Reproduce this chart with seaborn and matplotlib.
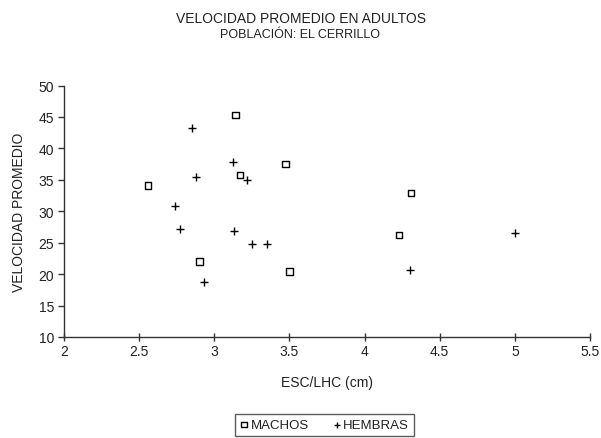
import matplotlib
matplotlib.use("Agg")
import matplotlib.pyplot as plt
import seaborn as sns
import pandas as pd

# ESC/LHC ratio and mean speed for adults, by sex
machos_x = [2.56, 2.90, 3.14, 3.17, 3.475, 3.50, 4.23, 4.31]
machos_y = [34.1, 22.0, 45.3, 35.8, 37.5, 20.4, 26.2, 32.9]

hembras_x = [2.85, 2.88, 2.74, 2.77, 2.93, 3.125, 3.22, 3.13, 3.25, 3.35, 4.30, 5.00]
hembras_y = [43.3, 35.5, 30.9, 27.2, 18.8, 37.9, 35.0, 26.8, 24.8, 24.8, 20.7, 26.6]

x_ticks = [2, 2.5, 3, 3.5, 4, 4.5, 5, 5.5]
y_ticks = [10, 15, 20, 25, 30, 35, 40, 45, 50]

machos = pd.DataFrame({"x": machos_x, "y": machos_y})
hembras = pd.DataFrame({"x": hembras_x, "y": hembras_y})

sns.set_theme(style="white")
plt.rcParams["font.family"] = ["Liberation Sans", "DejaVu Sans"]
ink = "#222222"

fig = plt.figure(figsize=(6.01, 4.39), dpi=100)
W, H = 601, 439
ax = fig.add_axes([64 / W, 1 - 338 / H, (590 - 64) / W, (338 - 86.5) / H])

sns.scatterplot(data=machos, x="x", y="y", ax=ax, marker="s", s=22,
                facecolor="none", edgecolor="black", linewidth=1.0,
                label="MACHOS")
sns.scatterplot(data=hembras, x="x", y="y", ax=ax, marker="+", s=30,
                color="black", linewidth=1.0, label="HEMBRAS")
for coll in ax.collections[:1]:
    coll.set_facecolor("none")
    coll.set_edgecolor("black")

ax.set_xlim(2, 5.5)
ax.set_ylim(10, 50)
ax.set_xticks(x_ticks)
ax.set_xticklabels([f"{t:g}" for t in x_ticks])
ax.set_yticks(y_ticks)
ax.set_yticklabels([str(t) for t in y_ticks])

for side in ("top", "right"):
    ax.spines[side].set_visible(False)
for side in ("left", "bottom"):
    ax.spines[side].set_color("#333333")
    ax.spines[side].set_linewidth(1.0)

ax.tick_params(axis="x", direction="inout", length=6, width=1, colors="#333333",
               labelcolor=ink, labelsize=10, pad=2, bottom=True)
ax.tick_params(axis="y", direction="out", length=4, width=1, colors="#333333",
               labelcolor=ink, labelsize=10, pad=3, left=True)

ax.set_xlabel("ESC/LHC (cm)", fontsize=10, color=ink, labelpad=12)
ax.set_ylabel("VELOCIDAD PROMEDIO", fontsize=10, color=ink, labelpad=9)

fig.text(300.5 / W, 1 - 19 / H, "VELOCIDAD PROMEDIO EN ADULTOS",
         ha="center", va="center", fontsize=10, color=ink)
fig.text(300.5 / W, 1 - 35 / H, "POBLACIÓN: EL CERRILLO",
         ha="center", va="center", fontsize=9, color=ink)

if ax.get_legend():
    ax.get_legend().remove()
handles, labels = ax.get_legend_handles_labels()
leg = fig.legend(handles, labels, loc="center", bbox_to_anchor=(324.5 / W, 1 - 426 / H),
                 ncol=2, frameon=True, fancybox=False, fontsize=9.5,
                 handlelength=0.6, handletextpad=0.2, columnspacing=1.8,
                 borderpad=0.4, markerscale=0.8)
leg.get_frame().set_edgecolor("#333333")
leg.get_frame().set_linewidth(1.0)
for t in leg.get_texts():
    t.set_color(ink)

fig.savefig("out.png", dpi=100)
